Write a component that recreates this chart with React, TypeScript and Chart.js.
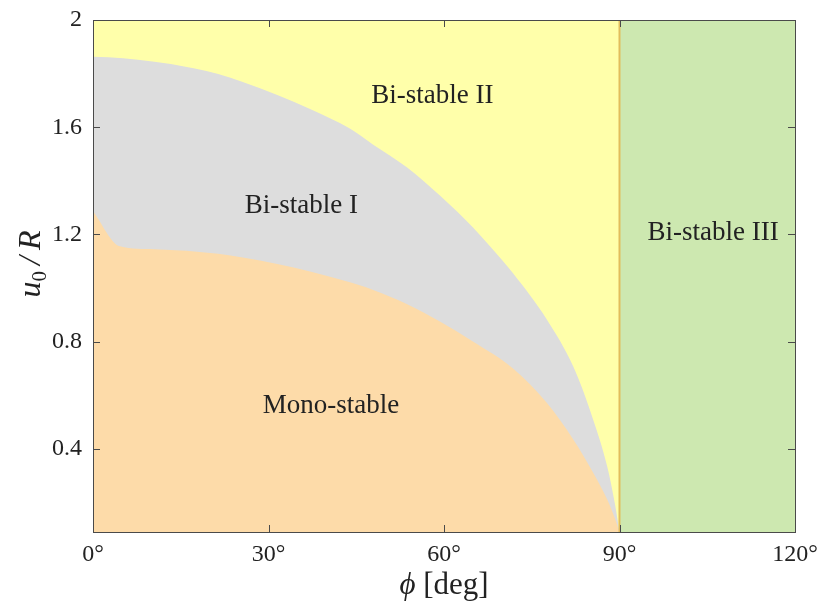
import React, { useEffect, useRef } from "react";
import { Chart, registerables } from "chart.js";

Chart.register(...registerables);

// Boundary between Bi-stable I (gray) and Bi-stable II (yellow)
const phiUpper = [0, 2.6, 7.7, 13.3, 17.4, 21.4, 25.6, 31.5, 37.1, 43.9, 47.9, 53.7, 59.3, 65.0, 67.9, 71.8, 77.6, 82.1, 85.5, 87.9, 89.3, 90];
const uUpper = [1.863, 1.861, 1.852, 1.836, 1.819, 1.799, 1.769, 1.72, 1.668, 1.595, 1.535, 1.45, 1.345, 1.225, 1.155, 1.055, 0.882, 0.707, 0.509, 0.334, 0.185, 0.09];

// Boundary between Mono-stable (orange) and Bi-stable I (gray)
const phiLower = [0, 4.6, 10.5, 21.4, 25.6, 31.5, 37.1, 43.0, 47.9, 53.7, 59.3, 65.0, 71.8, 77.6, 82.1, 85.5, 87.9, 89.3, 90];
const uLower = [1.287, 1.156, 1.145, 1.128, 1.114, 1.09, 1.062, 1.027, 0.993, 0.94, 0.875, 0.8, 0.7, 0.571, 0.435, 0.311, 0.211, 0.136, 0.09];

const phiLimit = 90;
const phiMax = 120;
const uMin = 0.09;
const uMax = 2;

const xTicks = [0, 30, 60, 90, 120];
const yTicks = [0.4, 0.8, 1.2, 1.6, 2];

const regionNames = ["Mono-stable", "Bi-stable I", "Bi-stable II", "Bi-stable III"];
const regionPhi = [40.7, 35.6, 58.0, 106.0];
const regionU = [0.56, 1.305, 1.715, 1.206];

const COLORS = {
  orange: "#fddba9",
  gray: "#dddddd",
  yellow: "#ffffaa",
  green: "#cde8b0",
  divider: "#e2bd5c",
  frame: "#4a4a4a",
  text: "#222222",
};

const SERIF = '"Liberation Serif", "DejaVu Serif", serif';

const toPoints = (xs: number[], ys: number[]) => xs.map((x, i) => ({ x, y: ys[i] }));

const overlay = {
  id: "overlay",
  afterDatasetsDraw(chart: any) {
    const { ctx, chartArea: a, scales } = chart;
    const xs = scales.x;
    const ys = scales.y;
    ctx.save();
    // inward tick marks on all four sides
    ctx.strokeStyle = COLORS.frame;
    ctx.lineWidth = 1;
    const tl = 7;
    ctx.beginPath();
    xTicks.slice(1, -1).forEach((v) => {
      const px = Math.round(xs.getPixelForValue(v)) + 0.5;
      ctx.moveTo(px, a.bottom);
      ctx.lineTo(px, a.bottom - tl);
      ctx.moveTo(px, a.top);
      ctx.lineTo(px, a.top + tl);
    });
    yTicks.slice(0, -1).forEach((v) => {
      const py = Math.round(ys.getPixelForValue(v)) + 0.5;
      ctx.moveTo(a.left, py);
      ctx.lineTo(a.left + tl, py);
      ctx.moveTo(a.right, py);
      ctx.lineTo(a.right - tl, py);
    });
    ctx.stroke();
    // frame
    ctx.strokeRect(Math.round(a.left) + 0.5, Math.round(a.top) + 0.5, Math.round(a.right - a.left), Math.round(a.bottom - a.top));

    // region labels
    ctx.fillStyle = COLORS.text;
    ctx.font = `27px ${SERIF}`;
    ctx.textAlign = "center";
    ctx.textBaseline = "middle";
    regionNames.forEach((name, i) => {
      ctx.fillText(name, xs.getPixelForValue(regionPhi[i]), ys.getPixelForValue(regionU[i]));
    });
    ctx.restore();
  },
  afterDraw(chart: any) {
    const { ctx, chartArea: a } = chart;
    ctx.save();
    ctx.fillStyle = COLORS.text;
    ctx.textBaseline = "middle";
    ctx.textAlign = "left";
    // x-axis title: ϕ [deg]
    const cx = (a.left + a.right) / 2;
    const ty = a.bottom + 54;
    const big = 31;
    ctx.font = `italic ${big}px ${SERIF}`;
    const wPhi = ctx.measureText("ϕ").width;
    ctx.font = `${big}px ${SERIF}`;
    const wRest = ctx.measureText(" [deg]").width;
    const x0 = cx - (wPhi + wRest) / 2;
    ctx.font = `italic ${big}px ${SERIF}`;
    ctx.fillText("ϕ", x0, ty);
    ctx.font = `${big}px ${SERIF}`;
    ctx.fillText(" [deg]", x0 + wPhi, ty);

    // y-axis title: u0/R (rotated)
    const cy = (a.top + a.bottom) / 2 - 12;
    ctx.translate(32, cy);
    ctx.rotate(-Math.PI / 2);
    const main = `italic 32px ${SERIF}`;
    const sub = `21px ${SERIF}`;
    const gap = 6;
    ctx.font = main;
    const wu = ctx.measureText("u").width;
    const wSlash = ctx.measureText("/").width;
    const wR = ctx.measureText("R").width;
    ctx.font = sub;
    const w0 = ctx.measureText("0").width;
    let px = -(wu + w0 + wSlash + wR + 2 * gap) / 2;
    ctx.font = main;
    ctx.fillText("u", px, 0);
    px += wu;
    ctx.font = sub;
    ctx.fillText("0", px, 8);
    px += w0 + gap;
    ctx.font = main;
    ctx.fillText("/", px, 0);
    px += wSlash + gap;
    ctx.fillText("R", px, 0);
    ctx.restore();
  },
};

export default function App() {
  const canvasRef = useRef<HTMLCanvasElement | null>(null);

  useEffect(() => {
    if (!canvasRef.current) return;
    const transparent = "rgba(0,0,0,0)";
    const chart = new Chart(canvasRef.current, {
      type: "line",
      data: {
        datasets: [
          {
            label: "φ = 90° boundary",
            data: [
              { x: phiLimit, y: uMin },
              { x: phiLimit, y: uMax },
            ],
            borderColor: COLORS.divider,
            borderWidth: 2,
            pointRadius: 0,
            fill: false,
          },
          {
            label: "Mono-stable",
            data: toPoints(phiLower, uLower),
            borderColor: transparent,
            borderWidth: 0,
            backgroundColor: COLORS.orange,
            pointRadius: 0,
            cubicInterpolationMode: "monotone",
            fill: "start",
          },
          {
            label: "Bi-stable I",
            data: toPoints(phiUpper, uUpper),
            borderColor: transparent,
            borderWidth: 0,
            backgroundColor: COLORS.gray,
            pointRadius: 0,
            cubicInterpolationMode: "monotone",
            fill: "start",
          },
          {
            label: "Bi-stable II",
            data: [
              { x: 0, y: uMax },
              { x: phiLimit, y: uMax },
            ],
            borderColor: transparent,
            borderWidth: 0,
            backgroundColor: COLORS.yellow,
            pointRadius: 0,
            fill: "start",
          },
          {
            label: "Bi-stable III",
            data: [
              { x: phiLimit, y: uMax },
              { x: phiMax, y: uMax },
            ],
            borderColor: transparent,
            borderWidth: 0,
            backgroundColor: COLORS.green,
            pointRadius: 0,
            fill: "start",
          },
        ],
      },
      options: {
        animation: false,
        responsive: false,
        events: [],
        layout: { padding: { top: 20, right: 25, left: 0, bottom: 0 } },
        plugins: {
          legend: { display: false },
          tooltip: { enabled: false },
        },
        scales: {
          x: {
            type: "linear",
            min: 0,
            max: phiMax,
            afterBuildTicks: (s: any) => {
              s.ticks = xTicks.map((v) => ({ value: v }));
            },
            afterFit: (s: any) => {
              s.height = 74;
              s.paddingLeft = 0;
              s.paddingRight = 0;
            },
            ticks: {
              callback: (v: any) => `${v}°`,
              font: { family: SERIF, size: 24 },
              color: COLORS.text,
              padding: 8,
              maxRotation: 0,
            },
            grid: { display: false, drawTicks: false },
            border: { display: false },
          },
          y: {
            type: "linear",
            min: uMin,
            max: uMax,
            afterBuildTicks: (s: any) => {
              s.ticks = yTicks.map((v) => ({ value: v }));
            },
            afterFit: (s: any) => {
              s.width = 93;
              s.paddingTop = 0;
              s.paddingBottom = 0;
            },
            ticks: {
              callback: (v: any) => (Number.isInteger(v) ? String(v) : Number(v).toFixed(1)),
              font: { family: SERIF, size: 24 },
              color: COLORS.text,
              padding: 11,
            },
            grid: { display: false, drawTicks: false },
            border: { display: false },
          },
        },
      },
      plugins: [overlay],
    });
    return () => chart.destroy();
  }, []);

  return (
    <div style={{ position: "absolute", left: 0, top: 0, width: 820, height: 606, background: "#fff" }}>
      <canvas ref={canvasRef} width={820} height={606} />
    </div>
  );
}
